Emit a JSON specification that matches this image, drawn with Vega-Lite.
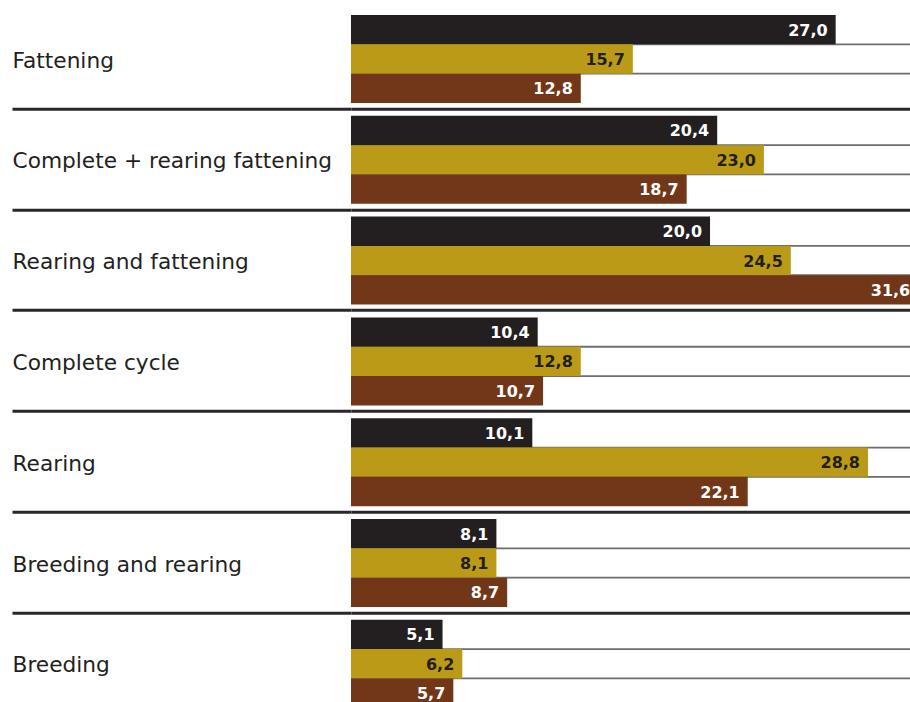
{
  "$schema": "https://vega.github.io/schema/vega-lite/v6.json",
  "width": 559,
  "height": 705.6,
  "autosize": {"type": "none"},
  "padding": {"left": 351, "top": 7.7, "right": 0, "bottom": 0},
  "background": "white",
  "config": {
    "view": {"stroke": null},
    "locale": {"number": {"decimal": ",", "thousands": ".", "grouping": [3], "currency": ["", " €"]}}
  },
  "data": {
    "values": [
      {"category": "Fattening", "series": "Series 1", "value": 27.0},
      {"category": "Fattening", "series": "Series 2", "value": 15.7},
      {"category": "Fattening", "series": "Series 3", "value": 12.8},
      {"category": "Complete + rearing fattening", "series": "Series 1", "value": 20.4},
      {"category": "Complete + rearing fattening", "series": "Series 2", "value": 23.0},
      {"category": "Complete + rearing fattening", "series": "Series 3", "value": 18.7},
      {"category": "Rearing and fattening", "series": "Series 1", "value": 20.0},
      {"category": "Rearing and fattening", "series": "Series 2", "value": 24.5},
      {"category": "Rearing and fattening", "series": "Series 3", "value": 31.6},
      {"category": "Complete cycle", "series": "Series 1", "value": 10.4},
      {"category": "Complete cycle", "series": "Series 2", "value": 12.8},
      {"category": "Complete cycle", "series": "Series 3", "value": 10.7},
      {"category": "Rearing", "series": "Series 1", "value": 10.1},
      {"category": "Rearing", "series": "Series 2", "value": 28.8},
      {"category": "Rearing", "series": "Series 3", "value": 22.1},
      {"category": "Breeding and rearing", "series": "Series 1", "value": 8.1},
      {"category": "Breeding and rearing", "series": "Series 2", "value": 8.1},
      {"category": "Breeding and rearing", "series": "Series 3", "value": 8.7},
      {"category": "Breeding", "series": "Series 1", "value": 5.1},
      {"category": "Breeding", "series": "Series 2", "value": 6.2},
      {"category": "Breeding", "series": "Series 3", "value": 5.7}
    ]
  },
  "encoding": {
    "y": {
      "field": "category",
      "type": "nominal",
      "scale": {
        "domain": ["Fattening", "Complete + rearing fattening", "Rearing and fattening", "Complete cycle", "Rearing", "Breeding and rearing", "Breeding"],
        "paddingInner": 0,
        "paddingOuter": 0
      },
      "axis": {
        "title": null,
        "domain": false,
        "tickBand": "extent",
        "tickSize": 339,
        "tickWidth": 3,
        "tickColor": {"condition": {"test": "datum.index < 0", "value": "transparent"}, "value": "#2b2728"},
        "grid": true,
        "gridWidth": 3,
        "gridColor": {"condition": {"test": "datum.index < 0", "value": "transparent"}, "value": "#2b2728"},
        "labelAlign": "left",
        "labelPadding": 0,
        "labelOffset": 2,
        "labelFont": "DejaVu Sans",
        "labelFontSize": 21.7,
        "labelColor": "#231f20",
        "labelLimit": 400
      }
    },
    "yOffset": {
      "field": "series",
      "type": "nominal",
      "scale": {"domain": ["Series 1", "Series 2", "Series 3"], "paddingInner": 0, "paddingOuter": 0.218, "align": 0.57}
    }
  },
  "layer": [
    {
      "transform": [{"filter": "datum.series === 'Series 2'"}],
      "mark": {"type": "bar", "clip": true, "fillOpacity": 0, "stroke": "#6e6e6e", "strokeWidth": 1.8},
      "encoding": {
        "x": {"datum": 0, "type": "quantitative", "scale": {"domain": [0, 31.14], "nice": false}, "axis": null},
        "x2": {"datum": 40}
      }
    },
    {
      "mark": {"type": "bar", "clip": true},
      "encoding": {
        "x": {"field": "value", "type": "quantitative", "scale": {"domain": [0, 31.14], "nice": false}, "axis": null},
        "color": {
          "field": "series",
          "type": "nominal",
          "scale": {"domain": ["Series 1", "Series 2", "Series 3"], "range": ["#231f20", "#ba9a16", "#723719"]},
          "legend": null
        }
      }
    },
    {
      "mark": {"type": "text", "align": "right", "baseline": "middle", "dx": -8, "dy": 1, "font": "DejaVu Sans", "fontWeight": "bold", "fontSize": 16},
      "encoding": {
        "x": {"field": "value", "type": "quantitative"},
        "text": {"field": "value", "type": "quantitative", "format": ".1f"},
        "color": {"condition": {"test": "datum.series === 'Series 2'", "value": "#231f20"}, "value": "white"}
      }
    }
  ]
}
